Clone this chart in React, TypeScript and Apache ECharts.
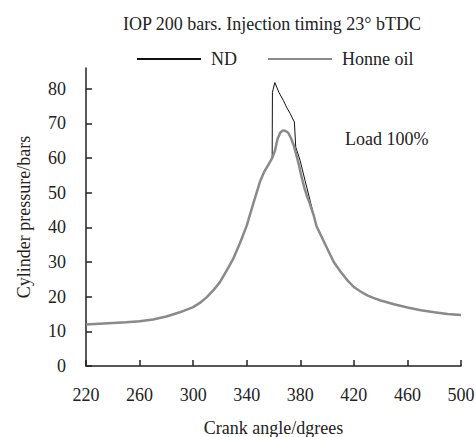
import React, { useEffect, useRef } from "react";
import * as echarts from "echarts";

const FONT = "Liberation Serif";

const xTicks = [220, 260, 300, 340, 380, 420, 460, 500];
const yTicks = [0, 10, 20, 30, 40, 50, 60, 70, 80];

// Honne oil curve
const honneAngles = [
  220, 230, 240, 250, 260, 270, 280, 290, 300, 305, 310, 315, 320, 325, 330, 335,
  340, 345, 350, 353, 356, 359, 361, 363, 365, 367, 369, 371, 373, 375, 377, 379,
  381, 383, 385, 387, 390, 392, 395, 400, 405, 410, 415, 420, 425, 430, 435, 440,
  450, 460, 470, 480, 490, 500,
];
const honneValues = [
  12.0, 12.2, 12.4, 12.6, 12.9, 13.4, 14.3, 15.5, 17.0, 18.2, 19.8, 21.8, 24.2, 27.5, 31.0, 35.5,
  40.5, 47.0, 53.3, 56.0, 58.0, 60.0, 62.0, 65.5, 67.3, 68.0, 67.8, 67.3, 65.8, 63.8, 61.0, 58.0,
  54.5, 51.5, 49.0, 47.0, 43.5, 40.5, 38.0, 34.0, 30.0, 27.3, 24.8, 22.8, 21.5, 20.4, 19.6, 18.9,
  17.8, 16.9, 16.1, 15.5, 15.0, 14.7,
];

// ND curve: differs from Honne oil only around the peak
const ndPeakAngles = [359.2, 361, 364, 367.4, 370, 372.4, 375.6, 376.6, 379.8, 383.5, 387.3];
const ndPeakValues = [79.0, 81.8, 79.0, 76.6, 74.5, 72.9, 70.4, 63.2, 59.4, 53.6, 47.8];

const honneData = honneAngles.map((a, i) => [a, honneValues[i]]);
const ndData = [
  ...honneAngles.filter((a) => a <= 359).map((a) => [a, honneValues[honneAngles.indexOf(a)]]),
  ...ndPeakAngles.map((a, i) => [a, ndPeakValues[i]]),
  ...honneAngles.filter((a) => a > 387.3).map((a) => [a, honneValues[honneAngles.indexOf(a)]]),
];

export default function App() {
  const ref = useRef<HTMLDivElement>(null);
  useEffect(() => {
    document.body.style.margin = "0";
    if (!ref.current) return;
    const chart = echarts.init(ref.current, undefined, { renderer: "svg" });
    const axisColor = "#222";
    const txt = () => ({ fontFamily: FONT, fontSize: 18, color: "#222" });
    chart.setOption({
      animation: false,
      backgroundColor: "#fff",
      textStyle: { fontFamily: FONT },
      title: {
        text: "IOP 200 bars. Injection timing 23° bTDC",
        left: 118,
        top: 10,
        textStyle: { ...txt(), fontWeight: "normal" },
      },
      legend: {
        left: 131,
        top: 45,
        itemWidth: 64,
        itemHeight: 14,
        itemGap: 30,
        data: ["ND", "Honne oil"],
        itemStyle: { opacity: 0 },
        textStyle: { ...txt(), padding: [0, 0, 0, 5] },
      },
      grid: { left: 86, right: 15, top: 68, bottom: 71, containLabel: false, outerBoundsMode: "none" },
      xAxis: {
        type: "value",
        min: 220,
        max: 500,
        name: "Crank angle/dgrees",
        nameLocation: "middle",
        nameGap: 53,
        nameTextStyle: txt(),
        axisLine: { lineStyle: { color: axisColor, width: 1.5 } },
        axisTick: { inside: true, length: 6, customValues: xTicks, lineStyle: { color: axisColor, width: 1.5 } },
        axisLabel: { customValues: xTicks, margin: 20, ...txt() },
        splitLine: { show: false },
      },
      yAxis: {
        type: "value",
        min: 0,
        max: 86,
        name: "Cylinder pressure/bars",
        nameLocation: "middle",
        nameGap: 53,
        nameTextStyle: txt(),
        axisLine: { show: true, lineStyle: { color: axisColor, width: 1.5 } },
        axisTick: { show: true, inside: true, length: 6, customValues: yTicks, lineStyle: { color: axisColor, width: 1.5 } },
        axisLabel: { customValues: yTicks, margin: 20, ...txt() },
        splitLine: { show: false },
      },
      graphic: [
        {
          type: "text",
          left: 345,
          top: 130,
          style: { text: "Load 100%", font: `18px ${FONT}`, fill: "#222" },
        },
      ],
      series: [
        {
          name: "ND",
          type: "line",
          data: ndData,
          symbol: "none",
          lineStyle: { color: "#111", width: 1 },
          itemStyle: { color: "#111" },
          z: 2,
        },
        {
          name: "Honne oil",
          type: "line",
          data: honneData,
          symbol: "none",
          lineStyle: { color: "#8a8a8a", width: 2.5 },
          itemStyle: { color: "#8a8a8a" },
          z: 3,
        },
      ],
    });
    return () => chart.dispose();
  }, []);
  return <div ref={ref} style={{ width: 476, height: 437 }} />;
}
